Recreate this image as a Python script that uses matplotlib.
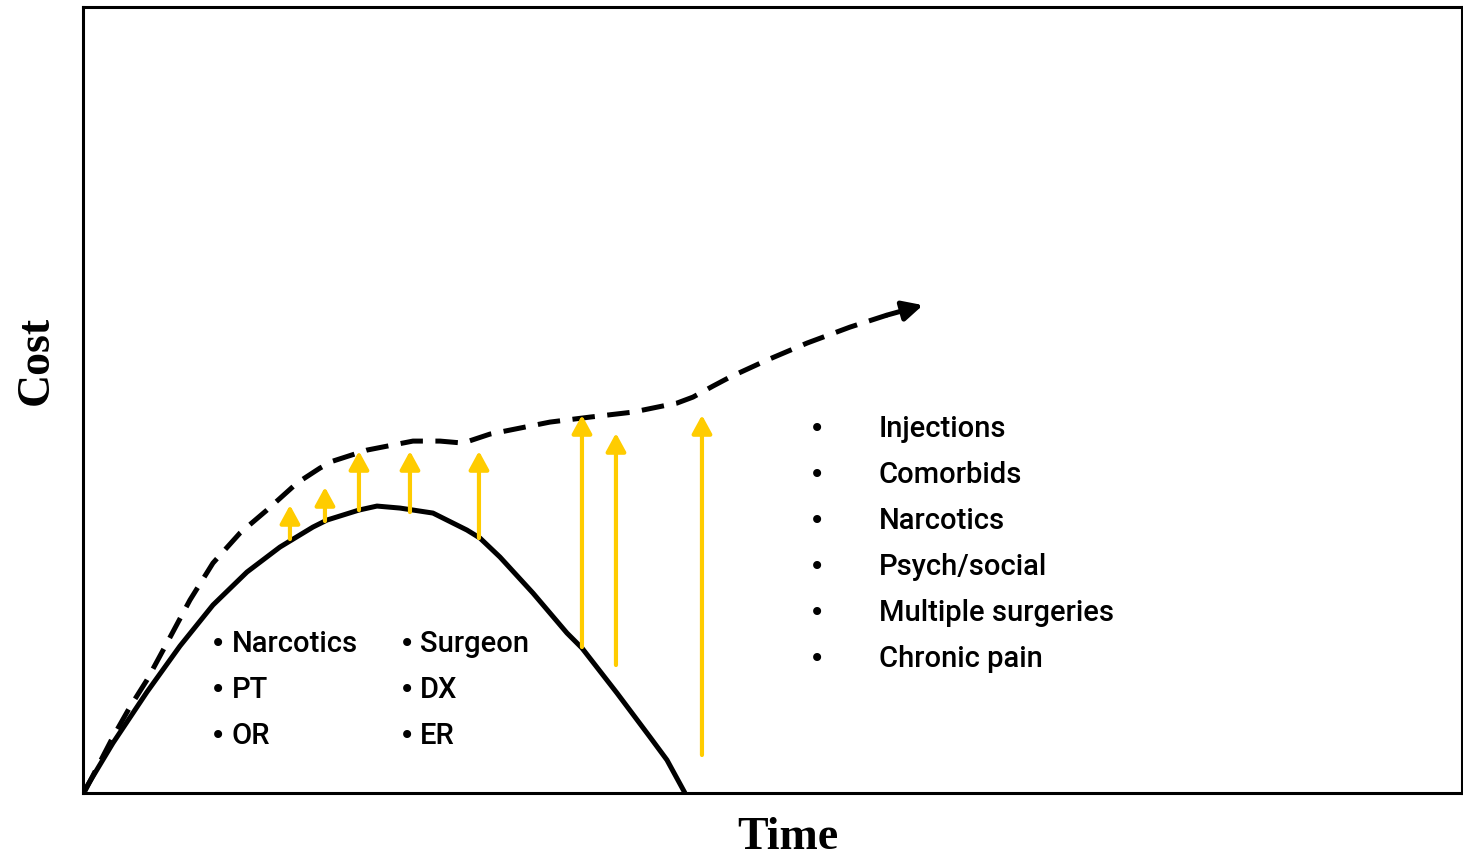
import matplotlib.pyplot as plt

# curve values (time, cost)
solid_t = [0, 30, 64, 97, 130, 164, 197, 230, 244, 276, 294, 317, 350, 384, 397, 417, 450,
           484, 499, 534, 567, 584, 602]
solid_c = [0, 50, 101, 147, 188, 221, 246, 266, 273, 283, 287, 285, 280, 263, 255, 236, 200,
           160, 145, 100, 56, 33, 0]

dash_t = [2, 30, 47, 64, 84, 107, 130, 157, 184, 214, 237, 250, 284, 330, 357, 380, 407, 467, 507,
          550, 594, 610, 630, 647, 684, 724, 767, 804, 840]
dash_c = [2, 56, 86, 113, 150, 193, 230, 260, 283, 310, 325, 332, 343, 352, 352, 350, 359, 371, 376,
          381, 390, 396, 407, 416, 433, 450, 466, 478, 488]

# yellow arrows: time, start cost, end cost
arrow_t = [207, 242, 276, 327, 396, 499, 533, 619]
arrow_from = [254, 272, 283, 281, 255, 146, 128, 38]
arrow_to = [288, 306, 342, 342, 342, 378, 360, 378]

left_col1 = ["Narcotics", "PT", "OR"]
left_col2 = ["Surgeon", "DX", "ER"]
right_list = ["Injections", "Comorbids", "Narcotics", "Psych/social", "Multiple surgeries", "Chronic pain"]

fig = plt.figure(figsize=(14.63, 8.56), dpi=100)
ax = fig.add_axes([0.0567, 0.0736, 0.9426, 0.918])
ax.set_xlim(0, 1379)
ax.set_ylim(0, 786)

ax.plot(solid_t, solid_c, color="black", lw=3.6, zorder=3, solid_capstyle="butt",
        solid_joinstyle="round")
ax.plot(dash_t[:-1], dash_c[:-1], color="black", lw=3.6, dashes=(4.5, 2.5), zorder=3)
ax.annotate("", xy=(dash_t[-1], dash_c[-1]), xytext=(dash_t[-2], dash_c[-2]),
            arrowprops=dict(arrowstyle="-|>,head_length=0.6,head_width=0.3", color="black",
                            lw=3.6, mutation_scale=20, shrinkA=0, shrinkB=0), zorder=4)

for t, c0, c1 in zip(arrow_t, arrow_from, arrow_to):
    ax.annotate("", xy=(t, c1), xytext=(t, c0),
                arrowprops=dict(arrowstyle="-|>,head_length=0.55,head_width=0.3", color="#FFCC00",
                                lw=3, mutation_scale=20, shrinkA=0, shrinkB=0), zorder=5)

font = "Roboto"
txt = dict(fontsize=21, family=font, fontweight="medium", va="center")
dot = dict(fontsize=20, family="DejaVu Sans", va="center", ha="center")
for i, (a, b) in enumerate(zip(left_col1, left_col2)):
    y = 149 - i * 46
    ax.text(135, y, "\u2022", **dot)
    ax.text(149, y, a, **txt)
    ax.text(324, y, "\u2022", **dot)
    ax.text(337, y, b, **txt)

for i, s in enumerate(right_list):
    y = 364 - i * 46
    ax.text(734, y, "\u2022", **dot)
    ax.text(796, y, s, **txt)

ax.set_xticks([])
ax.set_yticks([])
for sp in ax.spines.values():
    sp.set_linewidth(2.2)

ax.text(0.511, -0.071, "Time", transform=ax.transAxes, fontsize=33, family="Liberation Serif",
        fontweight="bold", ha="center", va="baseline")
ax.text(-0.0254, 0.551, "Cost", transform=ax.transAxes, fontsize=33, family="Liberation Serif",
        fontweight="bold", ha="center", va="baseline", rotation=90, rotation_mode="anchor")

fig.savefig("out.png", dpi=100)
